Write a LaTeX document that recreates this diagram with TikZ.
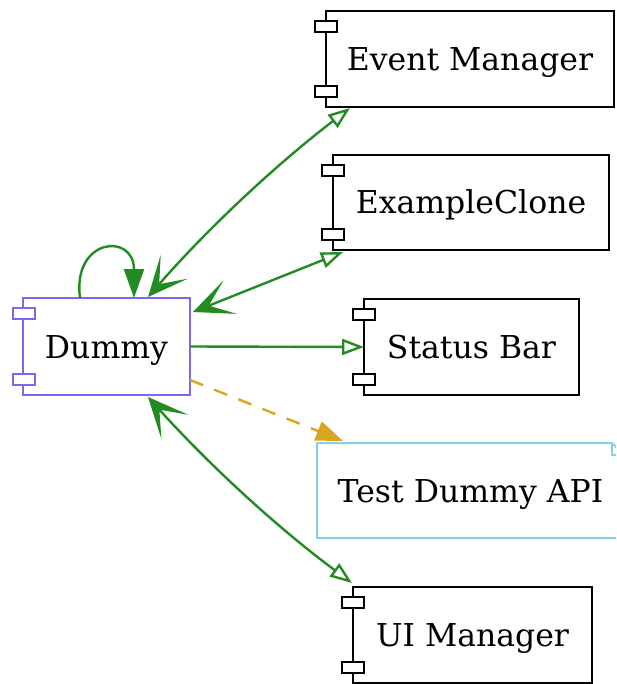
\documentclass[tikz,border=0pt]{standalone}
\usepackage{fontspec}
\setmainfont{DejaVu Serif}
\usetikzlibrary{arrows.meta,calc}
\definecolor{edgegreen}{RGB}{34,139,34}
\definecolor{slateb}{RGB}{123,104,238}
\definecolor{skyb}{RGB}{135,206,235}
\definecolor{goldr}{RGB}{218,165,32}
\begin{document}
\begin{tikzpicture}[x=1pt,y=-1pt,
  lbl/.style={font=\fontsize{31.5}{38}\selectfont, inner sep=0pt, outer sep=0pt, text height=23pt, text depth=0pt},
  comp/.style={lbl, draw=black, line width=2.8pt, fill=white},
  dcomp/.style={lbl, draw=slateb, line width=2pt, fill=white},
  notebox/.style={lbl},
  tab/.style={draw=black, fill=white, line width=2.3pt},
  dtab/.style={draw=slateb, fill=white, line width=1.8pt},
  vee/.tip={Stealth[length=40pt,width=36pt,inset=23pt]},
  empt/.tip={Triangle[open,length=22pt,width=16pt]},
  rel/.style={draw=edgegreen, line width=2.4pt},
  dep/.style={draw=goldr, line width=2.4pt, dash pattern=on 14pt off 12pt, -{Triangle[length=27pt,width=20pt]}},
  selfrel/.style={draw=edgegreen, line width=2.4pt, -{Triangle[length=29pt,width=20pt]}}
]
\useasboundingbox (0,0) rectangle (616,684);
\clip (0,0) rectangle (616,684);

% nodes
\node[comp, minimum width=288pt, minimum height=96pt] (em) at (470,59) {Event Manager};
\node[comp, minimum width=276pt, minimum height=95pt] (ec) at (471,202.5) {ExampleClone};
\node[comp, minimum width=215pt, minimum height=96pt] (sb) at (471.5,347) {Status Bar};
\node[notebox, minimum width=307pt, minimum height=95pt] (api) at (470.5,490.5) {Test Dummy API};
\node[comp, minimum width=239pt, minimum height=96pt] (ui) at (472.5,635) {UI Manager};
\node[dcomp, minimum width=167pt, minimum height=97pt] (dummy) at (106.5,346.5) {Dummy};

% component tabs
\foreach \n in {em,ec,sb,ui}{
  \draw[tab] ([xshift=-11pt,yshift=-10pt]\n.north west) rectangle ++(22pt,-11pt);
  \draw[tab] ([xshift=-11pt,yshift=10pt]\n.south west) rectangle ++(22pt,11pt);
}
\draw[dtab] ([xshift=-10pt,yshift=-10pt]dummy.north west) rectangle ++(22pt,-11pt);
\draw[dtab] ([xshift=-10pt,yshift=10pt]dummy.south west) rectangle ++(22pt,11pt);

% note shape
\draw[skyb, line width=2pt] (api.north west) -- ([xshift=-12pt]api.north east)
  -- ([yshift=-12pt]api.north east) -- (api.south east) -- (api.south west) -- cycle;
\draw[skyb, line width=2pt] ([xshift=-12pt]api.north east) -- ([xshift=-12pt,yshift=-12pt]api.north east)
  -- ([yshift=-12pt]api.north east);

% edges
\draw[rel, {vee}-{empt}] ($(dummy.north)+(41.5,-1)$)
  .. controls (209,227) and (277,164) .. ($(em.south west)+(24,1)$);
\draw[rel, {vee}-{empt}] ($(dummy.north east)+(3,14)$) -- ($(ec.south west)+(10,2)$);
\draw[rel, -{empt}] (dummy.east) -- (sb.west);
\draw[dep] ($(dummy.south east)+(0,-15)$) -- ($(api.north west)+(26,-2)$);
\draw[rel, {vee}-{empt}] ($(dummy.south)+(41.5,2)$)
  .. controls (210,466) and (278,528) .. ($(ui.north west)+(-1,-4)$);
\draw[selfrel] ($(dummy.north west)+(57,0)$)
  .. controls (72,238) and (134,232) .. ($(dummy.north west)+(111,0)$);
\end{tikzpicture}
\end{document}
